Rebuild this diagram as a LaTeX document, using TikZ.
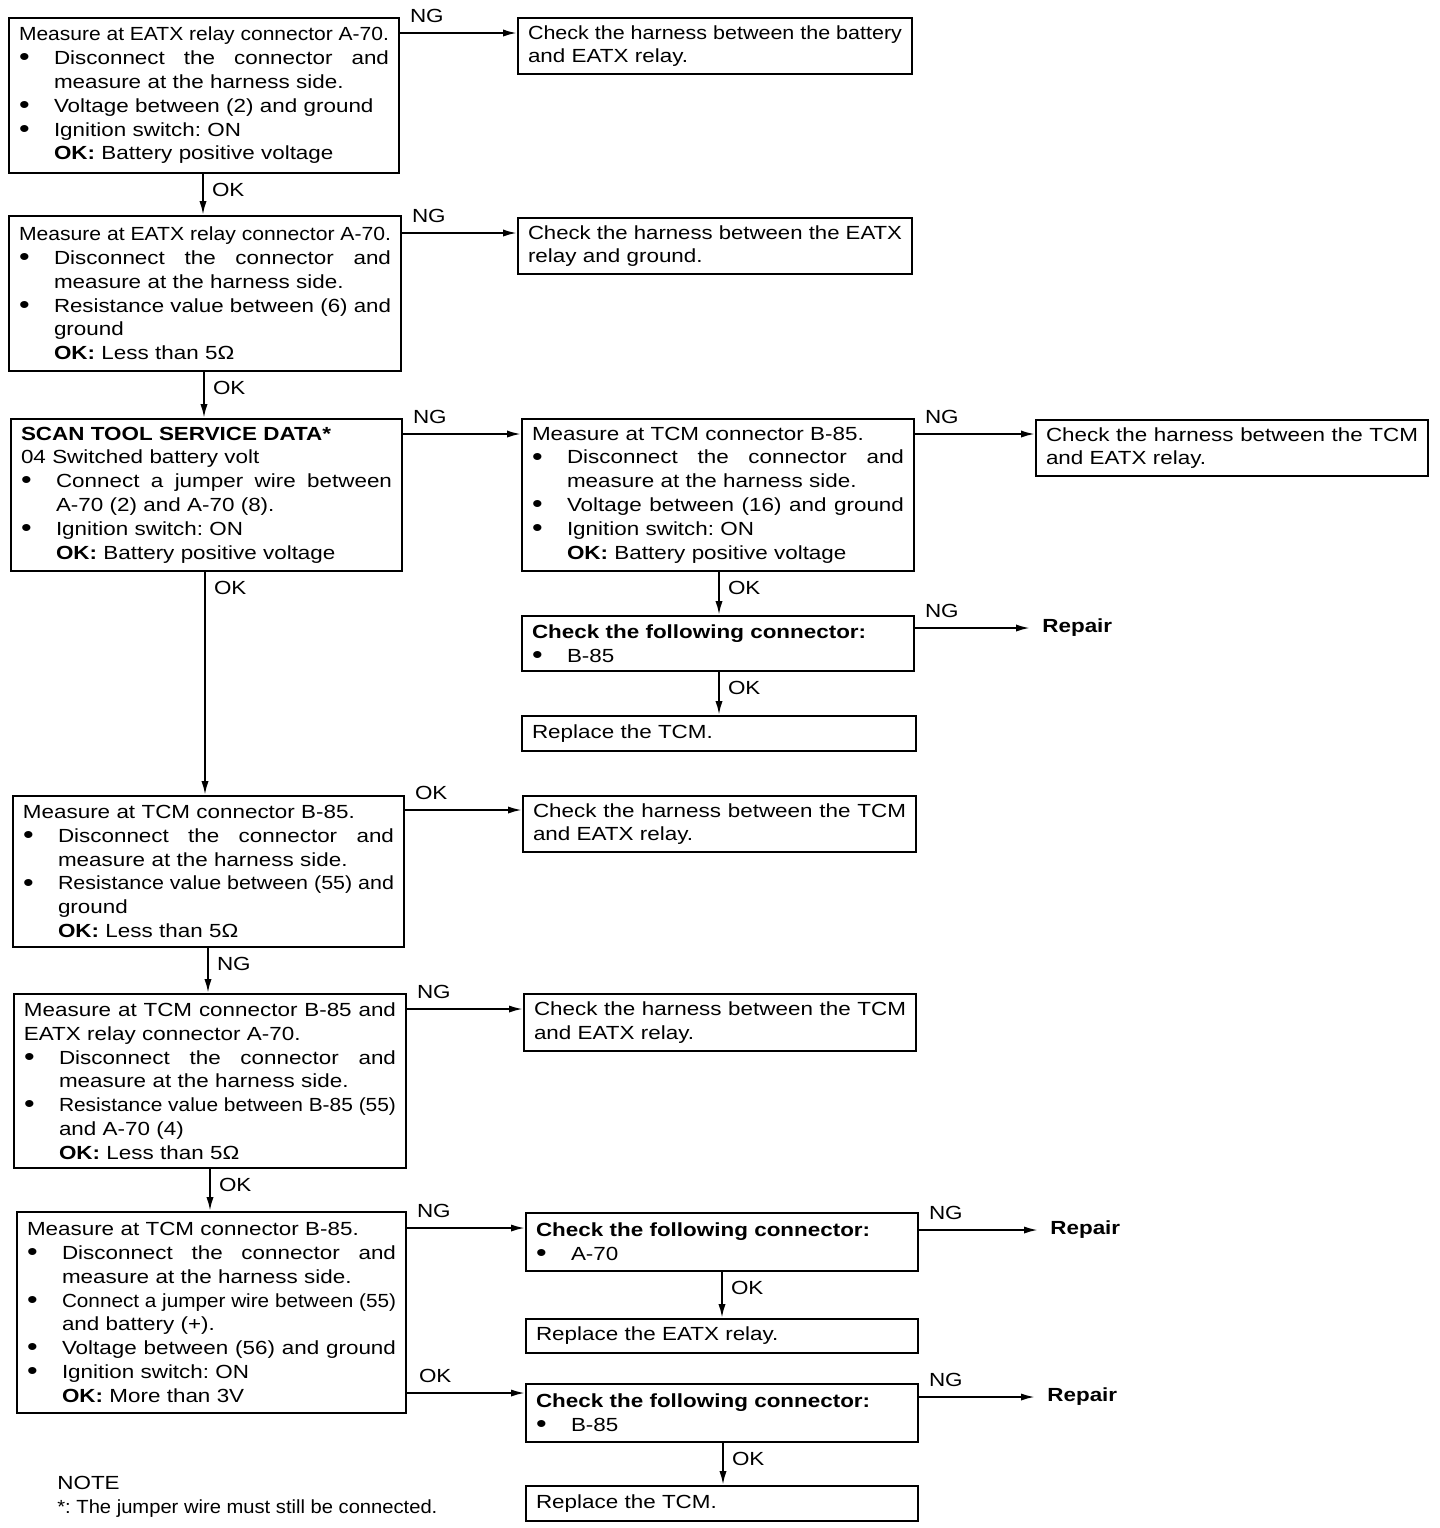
\documentclass[tikz,border=0pt]{standalone}
\usepackage{fontspec}
\setmainfont{Liberation Sans}[FakeStretch=1.18]
\usetikzlibrary{arrows.meta}
\newlength\tmpw \newlength\tmpt \newlength\bi \setlength\bi{17.5pt}
\newcommand\fitln[2]{\begingroup\spaceskip=0pt\xspaceskip=0pt\relax\setlength\tmpt{#1}\settowidth\tmpw{#2}\ifdim\tmpw>\tmpt\resizebox{\tmpt}{\height}{#2}\else\makebox[\tmpt][s]{#2}\fi\endgroup}
\newcommand\bulmk{\makebox[\bi][l]{\smash{\raisebox{-0.06em}{\scalebox{1.35}{\textbullet}}}}}
\newcommand\lnF[1]{\fitln{\hsize}{#1}}
\newcommand\lnB[1]{\bulmk#1}
\newcommand\lnBF[1]{\bulmk\fitln{\dimexpr\hsize-\bi\relax}{#1}}
\newcommand\lnI[1]{\hspace*{\bi}#1}
\tikzset{
  txtf/.style={font=\fontsize{9.5}{11.9}\selectfont},
  box/.style={draw, line width=1pt, anchor=north west, inner xsep=5pt, inner ysep=0pt,
    align=left, txtf, execute at begin node={\setlength\parindent{0pt}\frenchspacing}},
  arr/.style={line width=1pt, -{Latex[length=7pt,width=3.6pt]}},
  lh/.style={pos=0, anchor=base west, inner sep=0pt, xshift=4.5pt, yshift=5.5pt, txtf},
  lv/.style={pos=0, anchor=base west, inner sep=0pt, xshift=4pt, yshift=-11pt, txtf},
  rep/.style={anchor=west, inner xsep=6pt, inner ysep=2pt, font=\fontsize{9.5}{11.9}\selectfont\bfseries}
}
\begin{document}
\begin{tikzpicture}[x=0.5pt,y=-0.5pt]
\useasboundingbox (0,0) rectangle (1440,1528);

% left column
\node[box, text width=185pt, minimum height=77.5pt] (n1) at (8,17)
 {\lnF{Measure at EATX relay connector A-70.}\\
  \lnBF{Disconnect the connector and}\\
  \lnI{measure at the harness side.}\\
  \lnB{Voltage between (2) and ground}\\
  \lnB{Ignition switch: ON}\\
  \lnI{\textbf{OK:} Battery positive voltage}};

\node[box, text width=186pt, minimum height=77.5pt] (n2) at (8,215)
 {\lnF{Measure at EATX relay connector A-70.}\\
  \lnBF{Disconnect the connector and}\\
  \lnI{measure at the harness side.}\\
  \lnBF{Resistance value between (6) and}\\
  \lnI{ground}\\
  \lnI{\textbf{OK:} Less than 5Ω}};

\node[box, text width=185.5pt, minimum height=76pt] (n3) at (10,418)
 {\textbf{SCAN TOOL SERVICE DATA*}\\
  04 Switched battery volt\\
  \lnBF{Connect a jumper wire between}\\
  \lnI{A-70 (2) and A-70 (8).}\\
  \lnB{Ignition switch: ON}\\
  \lnI{\textbf{OK:} Battery positive voltage}};

\node[box, text width=185.5pt, minimum height=75.5pt] (n4) at (12,795)
 {Measure at TCM connector B-85.\\
  \lnBF{Disconnect the connector and}\\
  \lnI{measure at the harness side.}\\
  \lnBF{Resistance value between (55) and}\\
  \lnI{ground}\\
  \lnI{\textbf{OK:} Less than 5Ω}};

\node[box, text width=186pt, minimum height=87pt] (n5) at (13,993)
 {\lnF{Measure at TCM connector B-85 and}\\
  EATX relay connector A-70.\\
  \lnBF{Disconnect the connector and}\\
  \lnI{measure at the harness side.}\\
  \lnBF{Resistance value between B-85 (55)}\\
  \lnI{and A-70 (4)}\\
  \lnI{\textbf{OK:} Less than 5Ω}};

\node[box, text width=184.5pt, minimum height=100.5pt] (n6) at (16,1211)
 {Measure at TCM connector B-85.\\
  \lnBF{Disconnect the connector and}\\
  \lnI{measure at the harness side.}\\
  \lnBF{Connect a jumper wire between (55)}\\
  \lnI{and battery (+).}\\
  \lnBF{Voltage between (56) and ground}\\
  \lnB{Ignition switch: ON}\\
  \lnI{\textbf{OK:} More than 3V}};

% middle column
\node[box, text width=187pt, minimum height=28pt] (a) at (517,17)
 {\lnF{Check the harness between the battery}\\ and EATX relay.};
\node[box, text width=187pt, minimum height=28pt] (b) at (517,217)
 {\lnF{Check the harness between the EATX}\\ relay and ground.};
\node[box, text width=186pt, minimum height=76pt] (c) at (521,418)
 {Measure at TCM connector B-85.\\
  \lnBF{Disconnect the connector and}\\
  \lnI{measure at the harness side.}\\
  \lnBF{Voltage between (16) and ground}\\
  \lnB{Ignition switch: ON}\\
  \lnI{\textbf{OK:} Battery positive voltage}};
\node[box, text width=186pt, minimum height=27.5pt] (e) at (521,615)
 {\textbf{Check the following connector:}\\ \lnB{B-85}};
\node[box, text width=187pt, minimum height=17.5pt] (f) at (521,715)
 {Replace the TCM.};
\node[box, text width=186.5pt, minimum height=28pt] (g) at (522,795)
 {\lnF{Check the harness between the TCM}\\ and EATX relay.};
\node[box, text width=186pt, minimum height=28.5pt] (h) at (523,993)
 {\lnF{Check the harness between the TCM}\\ and EATX relay.};
\node[box, text width=186pt, minimum height=29pt] (i) at (525,1212)
 {\textbf{Check the following connector:}\\ \lnB{A-70}};
\node[box, text width=186pt, minimum height=17pt] (j) at (525,1318)
 {Replace the EATX relay.};
\node[box, text width=186pt, minimum height=29pt] (k) at (525,1383)
 {\textbf{Check the following connector:}\\ \lnB{B-85}};
\node[box, text width=186pt, minimum height=17.5pt] (l) at (525,1485)
 {Replace the TCM.};

% right column
\node[box, text width=186pt, minimum height=28pt] (d) at (1035,419)
 {\lnF{Check the harness between the TCM}\\ and EATX relay.};
\node[rep] (rep1) at (1030,628) {Repair};
\node[rep] (rep2) at (1038,1230) {Repair};
\node[rep] (rep3) at (1035,1397) {Repair};

% note
\node[anchor=north west, inner sep=0pt, align=left, txtf, execute at begin node=\frenchspacing] (note) at (57,1476)
 {NOTE\\ \fitln{190pt}{*: The jumper wire must still be connected.}};

% connectors
\draw[arr] (n1.east |- 0,33) -- (a.west |- 0,33) node[lh] (l1) {NG};
\draw[arr] (n1.south -| 203,0) -- (n2.north -| 203,0) node[lv] (l2) {OK};
\draw[arr] (n2.east |- 0,233) -- (b.west |- 0,233) node[lh] (l3) {NG};
\draw[arr] (n2.south -| 204,0) -- (n3.north -| 204,0) node[lv] (l4) {OK};
\draw[arr] (n3.east |- 0,434) -- (c.west |- 0,434) node[lh] (l5) {NG};
\draw[arr] (c.east |- 0,434) -- (d.west |- 0,434) node[lh] (l6) {NG};
\draw[arr] (c.south -| 719,0) -- (e.north -| 719,0) node[lv] (l7) {OK};
\draw[arr] (e.east |- rep1) -- (rep1.west) node[lh] (l8) {NG};
\draw[arr] (e.south -| 719,0) -- (f.north -| 719,0) node[lv] (l9) {OK};
\draw[arr] (n3.south -| 205,0) -- (n4.north -| 205,0) node[lv] (l10) {OK};
\draw[arr] (n4.east |- 0,810) -- (g.west |- 0,810) node[lh] (l11) {OK};
\draw[arr] (n4.south -| 208,0) -- (n5.north -| 208,0) node[lv] (l12) {NG};
\draw[arr] (n5.east |- 0,1009) -- (h.west |- 0,1009) node[lh] (l13) {NG};
\draw[arr] (n5.south -| 210,0) -- (n6.north -| 210,0) node[lv] (l14) {OK};
\draw[arr] (n6.east |- 0,1228) -- (i.west |- 0,1228) node[lh] (l15) {NG};
\draw[arr] (n6.east |- 0,1393) -- (k.west |- 0,1393) node[lh, xshift=1pt] (l16) {OK};
\draw[arr] (i.east |- rep2) -- (rep2.west) node[lh] (l17) {NG};
\draw[arr] (i.south -| 722,0) -- (j.north -| 722,0) node[lv] (l18) {OK};
\draw[arr] (k.east |- rep3) -- (rep3.west) node[lh] (l19) {NG};
\draw[arr] (k.south -| 723,0) -- (l.north -| 723,0) node[lv] (l20) {OK};
\end{tikzpicture}
\end{document}
